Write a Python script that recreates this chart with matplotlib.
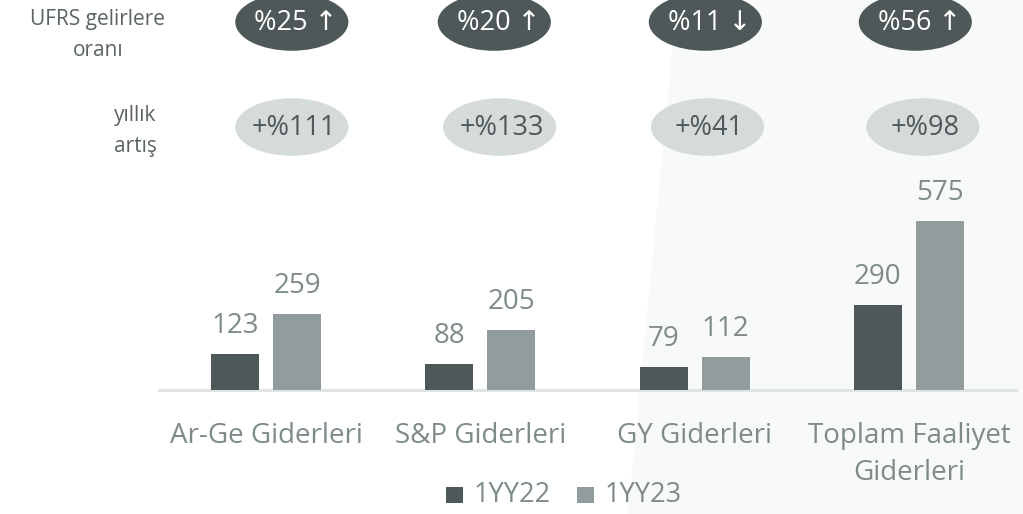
import matplotlib
matplotlib.use("Agg")
import matplotlib.pyplot as plt
from matplotlib.patches import Ellipse, Polygon, Rectangle
import numpy as np

categories = ["Ar-Ge Giderleri", "S&P Giderleri", "GY Giderleri", "Toplam Faaliyet\nGiderleri"]
series_names = ["1YY22", "1YY23"]
values_22 = [123, 88, 79, 290]
values_23 = [259, 205, 112, 575]
ratio_labels = ["%25 ↑", "%20 ↑", "%11 ↓", "%56 ↑"]
growth_labels = ["+%111", "+%133", "+%41", "+%98"]

DARK = "#4F5858"
LIGHT = "#929C9C"
PALE = "#D5DADA"
TXT = "#7F8B8B"
FONT = ["Open Sans", "DejaVu Sans"]

plt.rcParams["font.family"] = FONT

W, H = 1023, 514
fig = plt.figure(figsize=(W / 100, H / 100), dpi=100)
fig.patch.set_facecolor("white")

# faint background panel on the right
bg = Polygon([(677 / W, 1), (1, 1), (1, 0), (628 / W, 0)],
             closed=True, transform=fig.transFigure,
             facecolor="#F8F9F9", edgecolor="none", zorder=-10)
fig.patches.append(bg)

ax = fig.add_axes([159 / W, 124 / H, (1016 - 159) / W, 390 / H], zorder=2)
ax.set_facecolor("none")
x = np.arange(len(categories))
bw = 0.224
off = 0.145
b1 = ax.bar(x - off, values_22, bw, color=DARK, zorder=3)
b2 = ax.bar(x + off, values_23, bw, color=LIGHT, zorder=3)
ax.set_xlim(-0.5, len(categories) - 0.5)
ax.set_ylim(0, 1329)

for bars, vals in ((b1, values_22), (b2, values_23)):
    for r, v in zip(bars, vals):
        ax.annotate(f"{v}", (r.get_x() + r.get_width() / 2, r.get_height()),
                    xytext=(0, 15), textcoords="offset points",
                    ha="center", va="baseline", fontsize=20, color=TXT)

for s in ("top", "left", "right"):
    ax.spines[s].set_visible(False)
ax.spines["bottom"].set_color("#DDE2E2")
ax.spines["bottom"].set_linewidth(2)
ax.set_yticks([])
ax.set_xticks(x)
ax.set_xticklabels(categories, fontsize=20, color=TXT, linespacing=1.42, va="top")
ax.tick_params(axis="x", length=0, pad=23)

# ellipse annotations
dark_off = [0.12, 0.065, 0.05, 0.03]
pale_off = [0.12, 0.09, 0.06, 0.065]
for i in range(len(categories)):
    cx = x[i] + dark_off[i]
    ax.add_patch(Ellipse((cx, 1254), 0.528, 196, facecolor=DARK,
                         edgecolor="none", clip_on=False, zorder=4))
    ax.text(cx + 0.02, 1250, ratio_labels[i], ha="center", va="center",
            fontsize=19.5, color="white", zorder=5, clip_on=False)
    cx2 = x[i] + pale_off[i]
    ax.add_patch(Ellipse((cx2, 896), 0.528, 196, facecolor=PALE,
                         edgecolor="none", clip_on=False, zorder=4))
    ax.text(cx2 + 0.01, 892, growth_labels[i], ha="center", va="center",
            fontsize=19.5, color=DARK, zorder=5, clip_on=False)

# row labels
fig.text(98 / W, 1 - 35 / H, "UFRS gelirlere\noranı", ha="center", va="center",
         fontsize=15, color="#5A6363", linespacing=1.65)
fig.text(135 / W, 1 - 131 / H, "yıllık\nartış", ha="center", va="center",
         fontsize=15, color="#5A6363", linespacing=1.65)

# legend
fig.patches.append(Rectangle((446 / W, 1 - 503 / H), 17 / W, 16 / H,
                             transform=fig.transFigure, facecolor=DARK, edgecolor="none"))
fig.text(474 / W, 1 - 495 / H, series_names[0], ha="left", va="center",
         fontsize=19.5, color=TXT)
fig.patches.append(Rectangle((577 / W, 1 - 503 / H), 17 / W, 16 / H,
                             transform=fig.transFigure, facecolor=LIGHT, edgecolor="none"))
fig.text(605 / W, 1 - 495 / H, series_names[1], ha="left", va="center",
         fontsize=19.5, color=TXT)

fig.savefig("out.png", dpi=100)
